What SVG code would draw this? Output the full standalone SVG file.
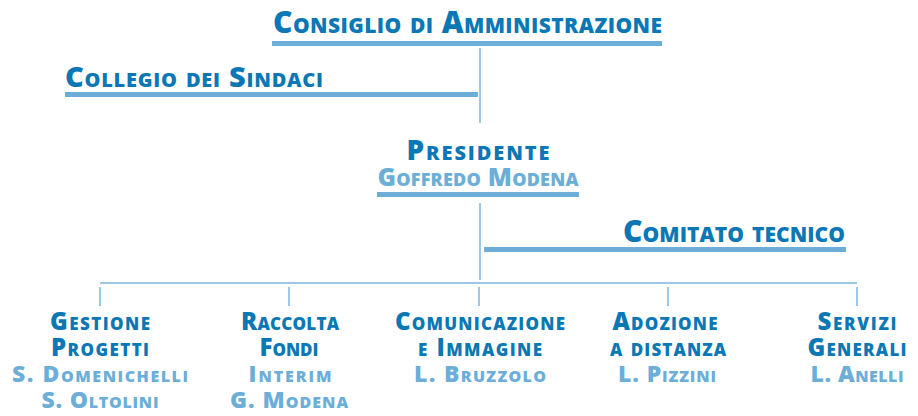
<svg xmlns="http://www.w3.org/2000/svg" width="918" height="416" viewBox="0 0 918 416">
<style>
text{font-family:"Open Sans","Noto Sans","DejaVu Sans",sans-serif;font-weight:800;font-variant:small-caps}
.d{fill:#0b78b5}
.l{fill:#6caed8}
.big{font-size:30px}
.mid{font-size:28px}
.sub{font-size:25px}
.b1{font-size:24px}
.b2{font-size:23px}
.bar{fill:#6caed8}
.ln{stroke:#9ccae7;stroke-width:2;fill:none}
.tk{stroke:#7ab6dd;stroke-width:1.5;fill:none}
.c{text-anchor:middle}
</style>
<rect width="918" height="416" fill="#ffffff"/>
<g id="connectors">
<line class="ln" x1="480" y1="48" x2="480" y2="123"/>
<line class="ln" x1="480" y1="203" x2="480" y2="280"/>
<line class="tk" x1="100" y1="283" x2="857" y2="283"/>
<line class="tk" x1="100" y1="287" x2="100" y2="306"/>
<line class="tk" x1="289" y1="287" x2="289" y2="306"/>
<line class="tk" x1="479" y1="287" x2="479" y2="306"/>
<line class="tk" x1="668" y1="287" x2="668" y2="306"/>
<line class="tk" x1="857" y1="287" x2="857" y2="306"/>
</g>
<g id="consiglio">
<text class="d big" x="273" y="33" textLength="389">Consiglio di Amministrazione</text>
<rect class="bar" x="272" y="41" width="390" height="5"/>
</g>
<g id="collegio">
<text class="d big" x="65" y="87" textLength="258" style="font-size:29px">Collegio dei Sindaci</text>
<rect class="bar" x="65" y="92" width="413" height="5"/>
</g>
<g id="presidente">
<text class="d mid c" x="478" y="160" textLength="143">Presidente</text>
<text class="l sub c" x="478" y="186" textLength="201">Goffredo Modena</text>
<rect class="bar" x="377" y="192" width="202" height="5"/>
</g>
<g id="comitato">
<text class="d big" x="623" y="242" textLength="222">Comitato tecnico</text>
<rect class="bar" x="484" y="247" width="362" height="5"/>
</g>
<g id="gestione">
<text class="d b1 c" x="100" y="330" textLength="100">Gestione</text>
<text class="d b1 c" x="100" y="356" textLength="98">Progetti</text>
<text class="l b2 c" x="100" y="382" textLength="176">S. Domenichelli</text>
<text class="l b2 c" x="100" y="408" textLength="117">S. Oltolini</text>
</g>
<g id="raccolta">
<text class="d b1 c" x="290" y="330" textLength="98">Raccolta</text>
<text class="d b1 c" x="289" y="356" textLength="59">Fondi</text>
<text class="l b2 c" x="290" y="382" textLength="83">Interim</text>
<text class="l b2 c" x="289" y="408" textLength="118">G. Modena</text>
</g>
<g id="comunicazione">
<text class="d b1 c" x="480" y="330" textLength="170">Comunicazione</text>
<text class="d b1 c" x="480" y="356" textLength="124">e Immagine</text>
<text class="l b2 c" x="480" y="382" textLength="132">L. Bruzzolo</text>
</g>
<g id="adozione">
<text class="d b1 c" x="665" y="330" textLength="105">Adozione</text>
<text class="d b1 c" x="668" y="356" textLength="116">a distanza</text>
<text class="l b2 c" x="667" y="382" textLength="98">L. Pizzini</text>
</g>
<g id="servizi">
<text class="d b1 c" x="857" y="330" textLength="79">Servizi</text>
<text class="d b1 c" x="857" y="356" textLength="99">Generali</text>
<text class="l b2 c" x="857" y="382" textLength="93">L. Anelli</text>
</g>
</svg>
